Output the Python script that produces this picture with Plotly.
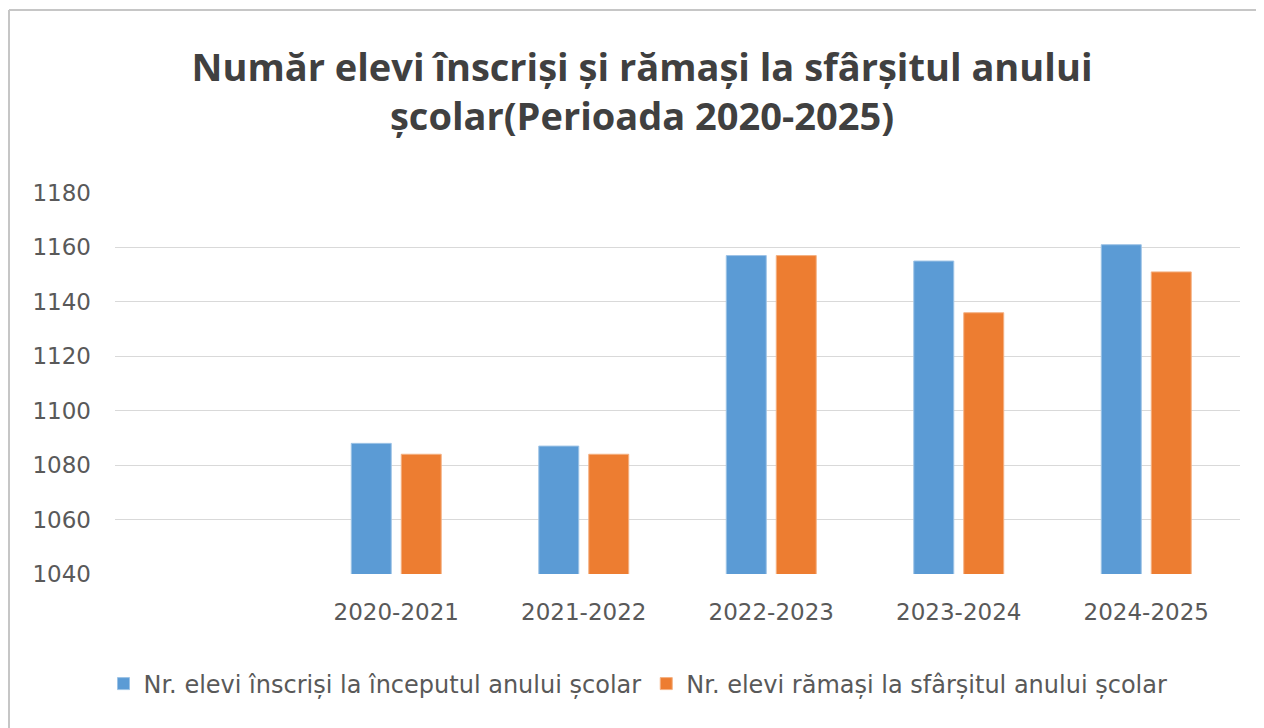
import plotly.graph_objects as go

categories = [" ", "2020-2021", "2021-2022", "2022-2023", "2023-2024", "2024-2025"]
inscrisi = [None, 1088, 1087, 1157, 1155, 1161]
ramasi = [None, 1084, 1084, 1157, 1136, 1151]
series_names = [
    "Nr. elevi înscriși la începutul anului școlar",
    "Nr. elevi rămași la sfârșitul anului școlar",
]
title_text = "Număr elevi înscriși și rămași la sfârșitul anului<br>școlar(Perioada 2020-2025)"
y_ticks = [1040, 1060, 1080, 1100, 1120, 1140, 1160, 1180]

# page body has an 8px margin, so figure coords = screen coords - 8
W, H = 1256, 720
ml, mr, mt, mb = 107, 24, 185, 154

fig = go.Figure()
fig.add_trace(go.Bar(x=categories, y=inscrisi, name=series_names[0],
                     marker=dict(color="#5b9bd5", line=dict(color="#9dc3e6", width=1))))
fig.add_trace(go.Bar(x=categories, y=ramasi, name=series_names[1],
                     marker=dict(color="#ed7d31", line=dict(color="#f4b183", width=1))))

pw = W - ml - mr
ph = H - mt - mb
def px_x(p):
    return (p - ml) / pw
def px_y(p):
    return (H - mb - p) / ph

fig.update_layout(
    width=W, height=H,
    margin=dict(l=ml, r=mr, t=mt, b=mb, pad=0),
    paper_bgcolor="white", plot_bgcolor="white",
    barmode="group", bargap=0.467, bargroupgap=0.2,
    font=dict(family="DejaVu Sans", color="#595959"),
    title=dict(text=title_text, x=634 / W, xanchor="center", xref="container",
               y=1 - 72.5 / H, yanchor="middle", yref="container",
               font=dict(family="Open Sans", size=38, color="#404040", weight="bold")),
    xaxis=dict(type="category", showgrid=False, showline=False, ticks="",
               tickfont=dict(size=23, color="#595959", family="DejaVu Sans"),
               ticklabelstandoff=22),
    yaxis=dict(range=[1040, 1180], tickvals=y_ticks, showgrid=True,
               gridcolor="#d9d9d9", gridwidth=1, zeroline=False, showline=False,
               ticks="", tickfont=dict(size=23, color="#595959", family="DejaVu Sans"),
               ticklabelstandoff=23),
    legend=dict(orientation="h", x=px_x(630), xanchor="center", xref="paper",
                y=px_y(676), yanchor="middle",
                font=dict(size=24, color="#595959", family="DejaVu Sans"),
                itemwidth=30, tracegroupgap=0, traceorder="normal"),
    showlegend=True,
    shapes=[
        dict(type="line", xref="paper", yref="paper", x0=px_x(1), x1=px_x(1270),
             y0=px_y(2), y1=px_y(2), line=dict(color="#c6c6c6", width=2)),
        dict(type="line", xref="paper", yref="paper", x0=px_x(1), x1=px_x(1),
             y0=px_y(2), y1=px_y(740), line=dict(color="#c6c6c6", width=2)),
    ],
)

fig.write_html("out.html")
